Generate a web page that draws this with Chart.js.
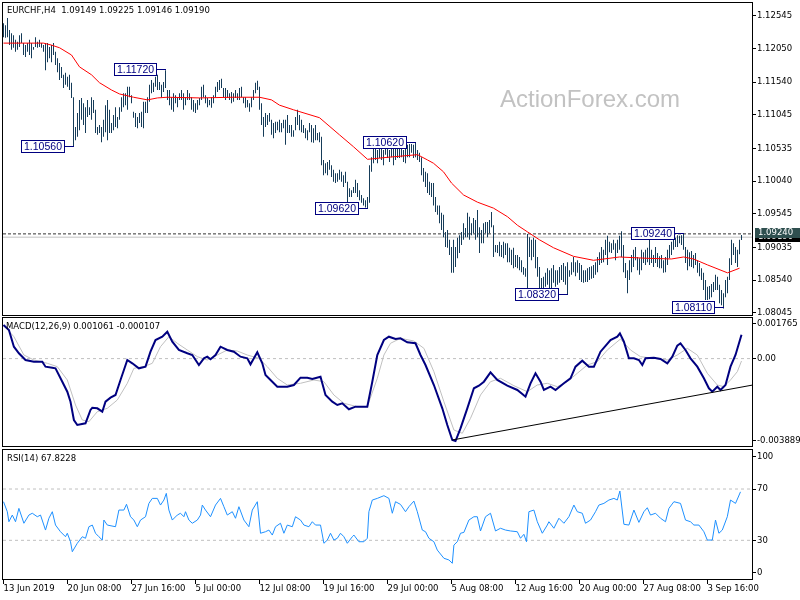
<!DOCTYPE html>
<html>
<head>
<meta charset="utf-8">
<title>EURCHF H4</title>
<script src="https://cdn.jsdelivr.net/npm/chart.js@4.4.1/dist/chart.umd.min.js"></script>
<style>
    html, body { margin: 0; padding: 0; background: #fff; }
    #wrap { position: relative; width: 800px; height: 600px; overflow: hidden; background: #fff; }
    canvas { position: absolute; left: 0; }
</style>
</head>
<body>
<div id="wrap">
    <canvas id="price-chart" width="800" height="338" style="top:-10px"></canvas>
    <canvas id="macd-chart" width="800" height="150" style="top:308px"></canvas>
    <canvas id="rsi-chart" width="800" height="160" style="top:440px"></canvas>
</div>
<script>
/**
 * EURCHF H4 - barras, MA, MACD e RSI
 */

// eixo do tempo (indice da barra)
const xTickIdx = [0, 32, 64, 96, 128, 160, 192, 224, 256, 288, 320, 352];
const xTickLabels = ['13 Jun 2019', '20 Jun 08:00', '27 Jun 16:00', '5 Jul 00:00', '12 Jul 08:00', '19 Jul 16:00',
    '29 Jul 00:00', '5 Aug 08:00', '12 Aug 16:00', '20 Aug 00:00', '27 Aug 08:00', '3 Sep 16:00'];

const priceTicks = [1.12545, 1.12050, 1.11540, 1.11045, 1.10535, 1.10040, 1.09545, 1.09035, 1.08540, 1.08045];
const macdTicks = [0.001765, 0, -0.003889];
const macdTickLabels = ['0.001765', '0.00', '-0.003889'];
const rsiTicks = [100, 70, 30, 0];
const rsiTickLabels = ['100', '70', '30', '0'];
const rsiLevels = [70, 30];

const headerText = 'EURCHF,H4  1.09149 1.09225 1.09146 1.09190';
const macdTitle = 'MACD(12,26,9) 0.001061 -0.000107';
const rsiTitle = 'RSI(14) 67.8228';
const watermark = 'ActionForex.com';

// maximas / minimas das barras H4
const barHigh = [
    1.1243,1.1240,1.1251,1.1233,1.1228,1.1225,1.1218,1.1215,1.1225,1.1228,
    1.1213,1.1210,1.1213,1.1218,1.1213,1.1207,1.1222,1.1215,1.1218,1.1213,
    1.1210,1.1213,1.1213,1.1207,1.1210,1.1213,1.1200,1.1190,1.1183,1.1177,
    1.1165,1.1168,1.1162,1.1165,1.1153,1.1131,1.1086,1.1107,1.1127,1.1130,
    1.1122,1.1116,1.1127,1.1116,1.1131,1.1127,1.1112,1.1086,1.1089,1.1086,
    1.1097,1.1119,1.1127,1.1112,1.1092,1.1104,1.1116,1.1101,1.1116,1.1131,
    1.1137,1.1137,1.1147,1.1147,1.1134,1.1109,1.1107,1.1101,1.1107,1.1109,
    1.1124,1.1124,1.1131,1.1150,1.1157,1.1153,1.1162,1.1165,1.1154,1.1150,
    1.1154,1.1172,1.1142,1.1142,1.1131,1.1137,1.1134,1.1131,1.1137,1.1142,
    1.1137,1.1131,1.1142,1.1137,1.1131,1.1127,1.1122,1.1127,1.1130,1.1147,
    1.1150,1.1134,1.1130,1.1127,1.1131,1.1134,1.1147,1.1154,1.1157,1.1159,
    1.1145,1.1145,1.1142,1.1137,1.1139,1.1137,1.1142,1.1137,1.1145,1.1147,
    1.1131,1.1131,1.1127,1.1122,1.1131,1.1142,1.1153,1.1156,1.1147,1.1122,
    1.1101,1.1107,1.1104,1.1107,1.1097,1.1092,1.1094,1.1094,1.1097,1.1092,
    1.1097,1.1097,1.1104,1.1089,1.1089,1.1081,1.1101,1.1112,1.1104,1.1097,
    1.1089,1.1084,1.1081,1.1092,1.1089,1.1084,1.1089,1.1077,1.1078,1.1071,
    1.1036,1.1031,1.1033,1.1036,1.1028,1.1021,1.1016,1.1016,1.1021,1.1018,
    1.1013,1.1018,1.1003,1.0993,1.0990,1.0995,1.1006,1.1001,1.0990,1.0983,
    1.0978,1.0975,1.0980,1.1028,1.1040,1.1054,1.1054,1.1051,1.1056,1.1056,
    1.1051,1.1060,1.1054,1.1051,1.1060,1.1059,1.1056,1.1053,1.1056,1.1054,
    1.1051,1.1056,1.1059,1.1060,1.1060,1.1059,1.1062,1.1051,1.1047,1.1040,
    1.1024,1.1018,1.1016,1.1003,1.1001,1.1001,1.0980,1.0967,1.0967,1.0956,
    1.0953,1.0927,1.0930,1.0915,1.0904,1.0915,1.0904,1.0918,1.0922,1.0927,
    1.0940,1.0933,1.0956,1.0950,1.0940,1.0948,1.0945,1.0960,1.0934,1.0930,
    1.0940,1.0942,1.0942,1.0945,1.0957,1.0937,1.0907,1.0907,1.0912,1.0907,
    1.0912,1.0910,1.0910,1.0903,1.0900,1.0903,1.0892,1.0892,1.0889,1.0884,
    1.0874,1.0872,1.0924,1.0919,1.0915,1.0918,1.0915,1.0889,1.0874,1.0857,
    1.0859,1.0865,1.0872,1.0869,1.0872,1.0877,1.0869,1.0869,1.0874,1.0877,
    1.0880,1.0875,1.0881,1.0869,1.0881,1.0889,1.0881,1.0884,1.0880,1.0877,
    1.0869,1.0869,1.0872,1.0874,1.0875,1.0877,1.0881,1.0889,1.0896,1.0904,
    1.0900,1.0915,1.0921,1.0912,1.0910,1.0915,1.0910,1.0915,1.0921,1.0928,
    1.0907,1.0880,1.0869,1.0884,1.0892,1.0900,1.0904,1.0889,1.0887,1.0900,
    1.0896,1.0900,1.0903,1.0922,1.0900,1.0892,1.0904,1.0895,1.0890,1.0892,
    1.0884,1.0889,1.0900,1.0907,1.0912,1.0919,1.0918,1.0922,1.0921,1.0922,
    1.0924,1.0904,1.0900,1.0896,1.0898,1.0892,1.0895,1.0884,1.0880,1.0872,
    1.0865,1.0854,1.0844,1.0845,1.0848,1.0851,1.0862,1.0859,1.0847,1.0839,
    1.0834,1.0854,1.0859,1.0887,1.0915,1.0910,1.0904,1.0900,1.0915,1.09225
];
const barLow = [
    1.1222,1.1221,1.1222,1.1210,1.1203,1.1206,1.1200,1.1203,1.1207,1.1213,
    1.1195,1.1192,1.1200,1.1195,1.1190,1.1203,1.1207,1.1206,1.1207,1.1206,
    1.1200,1.1172,1.1184,1.1190,1.1184,1.1195,1.1180,1.1169,1.1157,1.1160,
    1.1145,1.1150,1.1147,1.1142,1.1130,1.1056,1.1066,1.1071,1.1081,1.1097,
    1.1089,1.1077,1.1101,1.1104,1.1097,1.1107,1.1077,1.1074,1.1077,1.1063,
    1.1071,1.1078,1.1066,1.1077,1.1077,1.1081,1.1086,1.1084,1.1097,1.1109,
    1.1116,1.1119,1.1112,1.1131,1.1122,1.1100,1.1086,1.1084,1.1092,1.1086,
    1.1084,1.1107,1.1107,1.1124,1.1137,1.1139,1.1147,1.1142,1.1142,1.1131,
    1.1139,1.1145,1.1127,1.1119,1.1112,1.1109,1.1122,1.1116,1.1127,1.1127,
    1.1112,1.1119,1.1127,1.1127,1.1112,1.1109,1.1107,1.1112,1.1119,1.1127,
    1.1131,1.1122,1.1116,1.1119,1.1115,1.1122,1.1131,1.1139,1.1142,1.1145,
    1.1131,1.1127,1.1130,1.1127,1.1122,1.1124,1.1130,1.1127,1.1127,1.1131,
    1.1122,1.1115,1.1116,1.1109,1.1116,1.1127,1.1137,1.1142,1.1112,1.1089,
    1.1071,1.1086,1.1089,1.1094,1.1074,1.1069,1.1077,1.1081,1.1078,1.1078,
    1.1084,1.1059,1.1077,1.1077,1.1071,1.1071,1.1081,1.1089,1.1081,1.1078,
    1.1077,1.1069,1.1066,1.1078,1.1063,1.1062,1.1066,1.1066,1.1063,1.1028,
    1.1013,1.1016,1.1013,1.1021,1.1010,1.1003,1.1001,1.1003,1.1006,1.1003,
    1.0995,1.1001,1.0972,1.0980,1.0980,1.0986,1.0986,1.0980,1.0975,1.0971,
    1.0967,1.0964,1.0962,1.0971,1.1018,1.1031,1.1036,1.1031,1.1039,1.1036,
    1.1028,1.1044,1.1039,1.1033,1.1040,1.1028,1.1036,1.1039,1.1039,1.1040,
    1.1033,1.1031,1.1040,1.1040,1.1047,1.1039,1.1040,1.1036,1.1033,1.1013,
    1.1003,1.0995,1.0986,1.0983,1.0980,1.0967,1.0957,1.0953,1.0940,1.0930,
    1.0919,1.0904,1.0903,1.0892,1.0865,1.0865,1.0874,1.0887,1.0895,1.0907,
    1.0915,1.0919,1.0919,1.0915,1.0922,1.0925,1.0915,1.0919,1.0895,1.0910,
    1.0910,1.0925,1.0919,1.0925,1.0934,1.0889,1.0896,1.0895,1.0890,1.0889,
    1.0887,1.0892,1.0881,1.0881,1.0877,1.0872,1.0874,1.0872,1.0869,1.0866,
    1.0862,1.0859,1.0842,1.0889,1.0884,1.0889,1.0872,1.0859,1.0839,1.0839,
    1.0839,1.0844,1.0847,1.0839,1.0842,1.0850,1.0844,1.0847,1.0850,1.0854,
    1.0851,1.0847,1.0832,1.0859,1.0862,1.0866,1.0860,1.0865,1.0854,1.0851,
    1.0850,1.0851,1.0851,1.0854,1.0856,1.0857,1.0862,1.0866,1.0877,1.0880,
    1.0881,1.0892,1.0877,1.0896,1.0895,1.0900,1.0884,1.0895,1.0900,1.0889,
    1.0866,1.0857,1.0834,1.0854,1.0866,1.0874,1.0884,1.0869,1.0862,1.0869,
    1.0880,1.0877,1.0881,1.0877,1.0880,1.0874,1.0880,1.0874,1.0872,1.0872,
    1.0865,1.0866,1.0877,1.0887,1.0892,1.0900,1.0904,1.0904,1.0910,1.0907,
    1.0900,1.0880,1.0869,1.0875,1.0874,1.0872,1.0877,1.0865,1.0860,1.0854,
    1.0839,1.0824,1.0824,1.0825,1.0828,1.0836,1.0839,1.0839,1.0819,1.0816,
    1.0811,1.0828,1.0834,1.0854,1.0877,1.0892,1.0880,1.0874,1.0893,1.09146
];

// media movel (vermelha)
const maIdx = [0, 20, 24, 28, 34, 38, 44, 48, 54, 58, 65, 72, 77, 82, 98, 115, 128, 134, 138, 145, 158, 168,
    175, 182, 192, 207, 212, 215, 220, 224, 230, 237, 245, 252, 257, 262, 268, 275, 285, 295, 308, 322, 334,
    340, 345, 352, 362, 368];
const maVal = [1.1213, 1.1213, 1.1210, 1.1206, 1.1195, 1.1177, 1.1165, 1.1153, 1.1142, 1.1136, 1.1131, 1.1127,
    1.1130, 1.1131, 1.1130, 1.1131, 1.1131, 1.1127, 1.1119, 1.1112, 1.1100, 1.1074, 1.1056, 1.1037, 1.1040,
    1.1044, 1.1036, 1.1031, 1.1018, 1.1001, 1.0983, 1.0972, 1.0963, 1.0950, 1.0937, 1.0927, 1.0915, 1.0903,
    1.0890, 1.0884, 1.0889, 1.0887, 1.0886, 1.0889, 1.0886, 1.0877, 1.0865, 1.0872];

// etiquetas de preco desenhadas no grafico
const labelIdx = [35, 81, 182, 206, 282, 340, 360];
const labelPrice = [1.1056, 1.1172, 1.0962, 1.1062, 1.0832, 1.0924, 1.0811];
const levelPrice = 1.0924;
const bidPrice = 1.0919;

// MACD
const macdIdx = [0, 2.7, 5.2, 7.7, 11, 15.2, 19.4, 21, 24.4, 26, 29.4, 31.9, 33.5, 35.2, 36.9, 41, 43.5, 44.4,
    46.9, 49.4, 51, 53.5, 56, 58.5, 61.9, 64.4, 67.7, 71, 73.5, 76, 79.4, 81.9, 84.4, 87.7, 91.9, 94.4, 97.7,
    100.2, 101.9, 103.5, 106, 108.5, 111.9, 115.2, 118.5, 121.9, 123.5, 125.2, 126.9, 129.4, 131, 134.4, 136.9,
    141.9, 145.2, 148.5, 151.9, 154.4, 158.5, 161, 164.4, 166.9, 169.4, 172.7, 176, 181.9, 184.4, 186.9, 190.2,
    192.7, 196, 198.5, 201.9, 206, 208.5, 211, 215.2, 219.4, 221.9, 224.4, 226, 228.5, 231.9, 235.2, 237.7,
    240.2, 243.5, 246.9, 251.9, 256.9, 259.4, 261, 263.5, 266, 268.5, 270.2, 273.5, 276, 280.2, 283.5, 286,
    289.4, 292.7, 295.2, 298.5, 303.5, 306.9, 308.2, 310.2, 312.7, 315.2, 317.7, 319.4, 321, 325.2, 328.5,
    331.9, 334.4, 336.9, 338.5, 341, 343.5, 346.9, 350.2, 352.7, 354.4, 356.9, 358.5, 361, 363.5, 366, 369];
const macdVal = [0.001495, 0.001273, 0.00053, 0.000236, -0.000062, -0.000138, -0.000138, -0.00036, -0.000405,
    -0.000432, -0.001028, -0.001473, -0.001918, -0.002732, -0.002955, -0.002879, -0.002287, -0.002185, -0.002212,
    -0.002363, -0.001918, -0.00174, -0.00162, -0.000952, -0.000062, -0.000209, -0.000432, -0.00036, 0.000307,
    0.000828, 0.000975, 0.001197, 0.000752, 0.000383, 0.000236, 0.00016, -0.000285, 0.000013, 0.000085,
    -0.000031, 0.00016, 0.00053, 0.000383, 0.000307, 0.000085, 0.000013, -0.000254, 0.000013, 0.00028,
    -0.000209, -0.00073, -0.001028, -0.00125, -0.00125, -0.001175, -0.00085, -0.00085, -0.000908, -0.000805,
    -0.00162, -0.001918, -0.002065, -0.001989, -0.002256, -0.00214, -0.00214, -0.001028, 0.00016, 0.000828,
    0.000975, 0.000872, 0.0009, 0.000725, 0.000681, 0.00016, -0.000285, -0.001175, -0.002212, -0.002955,
    -0.003622, -0.003667, -0.003102, -0.002212, -0.001322, -0.001206, -0.001028, -0.00061, -0.000952,
    -0.001206, -0.001397, -0.001575, -0.001695, -0.001099, -0.000654, -0.001028, -0.001397, -0.00125,
    -0.001397, -0.001099, -0.000877, -0.00036, -0.000093, -0.00036, -0.00036, 0.000307, 0.000828, 0.000975,
    0.001126, 0.000752, 0.000013, 0.000013, -0.000062, -0.000285, 0.000013, 0.00004, -0.000018, -0.000209,
    0.000085, 0.000574, 0.000681, 0.000383, 0.000013, -0.00036, -0.000877, -0.001322, -0.001473, -0.00125,
    -0.001397, -0.001175, -0.00036, 0.00016, 0.001061];
const signalIdx = [0, 5.2, 10.2, 15.2, 21.9, 26.9, 31.9, 36, 39.4, 42.7, 46.9, 51.9, 56.9, 61.9, 65.2, 70.2,
    74.4, 78.5, 82.7, 86.9, 91.9, 96.9, 101.9, 106.9, 111.9, 116.9, 121.9, 127.7, 131.9, 136.9, 141.9, 148.5,
    155.2, 160.2, 165.2, 170.2, 176.9, 181.9, 186.9, 190.2, 193.5, 198.5, 205.2, 210.2, 215.2, 220.2, 225.2,
    229.4, 233.5, 238.5, 243.5, 248.5, 255.2, 261.9, 266.9, 271.9, 276.9, 281.9, 286.9, 291.9, 296.9, 301.9,
    308.5, 313.5, 318.5, 325.2, 331.9, 336.9, 341.9, 346.9, 351.9, 356.9, 360.2, 363.5, 366.9, 369];
const signalVal = [0.001495, 0.000975, 0.00016, -0.000062, -0.000209, -0.00036, -0.000952, -0.002065, -0.002732,
    -0.002808, -0.002363, -0.002212, -0.001842, -0.001099, -0.000432, -0.00036, -0.000209, 0.00053, 0.000975,
    0.000681, 0.000383, 0.000085, -0.000062, 0.00016, 0.000383, 0.000338, 0.00016, 0.000013, -0.00036,
    -0.000877, -0.001175, -0.001099, -0.000952, -0.001028, -0.00162, -0.001989, -0.00214, -0.00214, -0.000877,
    0.00016, 0.000681, 0.000903, 0.000783, 0.000458, -0.000583, -0.001918, -0.003177, -0.003324, -0.002657,
    -0.00162, -0.001028, -0.000877, -0.001206, -0.001473, -0.001175, -0.001099, -0.00125, -0.001028,
    -0.000654, -0.000285, -0.000138, 0.000383, 0.000872, 0.000383, 0.000085, 0.000013, -0.000062, 0.00016,
    0.000458, 0.00016, -0.000654, -0.001175, -0.00125, -0.000952, -0.000583, -0.000107];
const trendIdx = [224.4, 375];
const trendVal = [-0.003622, -0.00117];

// RSI(14)
const rsiIdx = [0, 1.9, 2.7, 4.4, 6, 7.7, 10.2, 12.7, 14.4, 16.9, 18.5, 21, 22.7, 24.4, 26, 28.5, 31, 31.9,
    33.5, 34.4, 36.9, 39.4, 41, 42.7, 44.4, 46, 47.7, 49.4, 50.2, 51.9, 56, 57.7, 60.2, 61.5, 63.5, 65.2, 66.9,
    68.5, 71, 72.7, 74.4, 76.9, 78.5, 80.2, 81.4, 82.7, 84.4, 86.9, 88.5, 90.2, 91, 92.7, 94.4, 96.9, 98.5,
    99.4, 101, 103.5, 106, 108.5, 110.2, 111.9, 114.4, 116, 117.7, 120.2, 122.7, 124.4, 126.9, 128.5, 131,
    132.7, 134.4, 136, 138.5, 140.2, 141.9, 144.4, 146, 148.5, 150.2, 152.7, 154.4, 156, 158.5, 160.2, 161.9,
    163.5, 165.2, 166.9, 168.5, 170.2, 171.9, 174.4, 175.2, 177.7, 180.2, 181.9, 182.7, 184.4, 186.9, 190.2,
    192.7, 194.4, 196, 198.5, 201, 202.7, 205.2, 206.9, 209.4, 211, 212.7, 215.2, 216.9, 220.2, 222.7, 224.4,
    225.2, 226.9, 228.5, 230.2, 232.7, 235.2, 236.9, 238.5, 241, 243.5, 246, 248.5, 251, 253.5, 256.9, 258.5,
    260.2, 261.5, 262.7, 265.2, 266.9, 269.4, 271.9, 272.7, 275.2, 277.7, 280.2, 282.7, 285.2, 286.9, 289.4,
    291, 293.5, 296, 297.7, 300.2, 302.7, 305.2, 306.9, 308.2, 310.2, 312.7, 315.2, 317.7, 320.2, 321.9, 323.5,
    326, 328.5, 331, 332.7, 335.2, 338.5, 341, 343.5, 345.2, 347.7, 350.2, 351.9, 354.4, 356, 357.7, 359.4,
    361.9, 363.5, 366, 368.5];
const rsiVal = [60.1, 52.3, 44.5, 49.7, 44.5, 54.9, 43.3, 49.7, 51.1, 48.4, 49.7, 38.0, 47.2, 52.3, 41.9, 36.7,
    32.8, 35.5, 28.9, 21.1, 27.7, 32.8, 31.6, 40.6, 41.9, 35.5, 32.8, 30.2, 45.8, 41.9, 40.6, 53.6, 53.6, 58.1,
    48.4, 45.8, 40.6, 45.8, 48.4, 58.8, 62.7, 62.7, 57.5, 61.4, 66.6, 53.6, 45.8, 49.7, 51.1, 48.4, 52.3, 45.8,
    43.3, 45.8, 49.7, 57.5, 53.6, 48.4, 57.5, 62.7, 56.2, 49.7, 52.3, 47.2, 56.2, 45.8, 40.6, 53.6, 60.1, 35.5,
    36.7, 38.0, 34.1, 40.6, 43.3, 35.5, 41.9, 40.6, 48.4, 45.8, 41.9, 40.6, 44.5, 41.9, 41.9, 27.7, 30.2, 35.5,
    30.2, 31.6, 35.5, 32.8, 27.7, 32.8, 34.1, 28.9, 28.9, 31.6, 52.3, 61.4, 62.7, 64.8, 62.7, 51.1, 60.1, 58.0,
    52.3, 56.2, 60.6, 52.3, 38.0, 36.7, 31.6, 28.9, 22.4, 16.0, 14.7, 12.1, 26.3, 28.9, 35.5, 36.2, 45.8, 48.4,
    48.4, 37.3, 48.4, 51.1, 37.3, 39.4, 38.0, 37.3, 36.7, 31.6, 34.7, 28.9, 52.3, 53.6, 44.5, 35.5, 41.9, 44.5,
    39.4, 47.2, 43.3, 48.4, 57.5, 52.3, 51.1, 43.3, 45.8, 52.3, 57.5, 58.8, 61.4, 62.7, 61.4, 68.4, 42.5, 41.9,
    53.6, 44.0, 52.3, 55.4, 49.7, 51.1, 47.2, 44.5, 54.9, 60.1, 58.8, 45.8, 44.5, 41.9, 41.9, 36.7, 30.2, 30.2,
    45.8, 35.5, 38.0, 48.4, 61.4, 58.8, 67.8];

// limites dos eixos
const X_MIN = -0.25, X_MAX = 374.25;
const PRICE_MIN = 1.07996, PRICE_MAX = 1.12753;
const MACD_MIN = -0.003934, MACD_MAX = 0.001851;
const RSI_MIN = -0.94, RSI_MAX = 101.2;

const BAR_COLOR = '#163c59';
const axisFont = { family: 'DejaVu Sans', size: 8.5 };

/**
 * Moldura, titulo e marca d'agua de cada painel
 */
const panelPlugin = {
    id: 'panel',
    beforeDatasetsDraw(chart, args, opts) {
        if (!opts.watermark) return;
        const { ctx, chartArea } = chart;
        ctx.save();
        ctx.font = '24px "Liberation Sans"';
        ctx.fillStyle = '#c2c2c2';
        ctx.textBaseline = 'alphabetic';
        ctx.fillText(opts.watermark, 500, chartArea.top + 105);
        ctx.restore();
    },
    afterDatasetsDraw(chart, args, opts) {
        const { ctx, chartArea } = chart;
        ctx.save();
        ctx.font = '8.5px "DejaVu Sans"';
        ctx.fillStyle = '#000';
        ctx.textBaseline = 'middle';
        ctx.fillText(opts.title, opts.titleX, chartArea.top + opts.titleDy);
        ctx.restore();
    },
    afterDraw(chart) {
        const { ctx, chartArea: a } = chart;
        ctx.save();
        ctx.strokeStyle = '#000';
        ctx.lineWidth = 1;
        ctx.strokeRect(a.left - 0.5, a.top + 0.5, a.right - a.left + 1, a.bottom - a.top - 1);
        ctx.restore();
    }
};

/**
 * Etiquetas de preco (caixas azuis) e marcadores no eixo
 */
const priceTagPlugin = {
    id: 'priceTags',
    afterDatasetsDraw(chart) {
        const { ctx } = chart;
        const xs = chart.scales.x, ys = chart.scales.y;
        ctx.save();
        ctx.font = '10.5px "Liberation Sans"';
        ctx.textAlign = 'center';
        ctx.textBaseline = 'middle';
        ctx.lineWidth = 1;
        labelIdx.forEach((idx, k) => {
            const text = labelPrice[k].toFixed(5);
            const barX = Math.round(xs.getPixelForValue(idx));
            const midY = Math.round(ys.getPixelForValue(labelPrice[k])) - 1;
            const w = Math.round(ctx.measureText(text).width) + 5;
            const right = barX - 10;
            const left = right - w;
            const top = midY - 6;
            ctx.strokeStyle = '#000080';
            ctx.beginPath();
            ctx.moveTo(right, midY + 0.5);
            ctx.lineTo(barX, midY + 0.5);
            ctx.stroke();
            ctx.fillStyle = '#fff';
            ctx.fillRect(left, top, w, 12);
            ctx.strokeRect(left + 0.5, top + 0.5, w, 12);
            ctx.fillStyle = '#000080';
            ctx.fillText(text, left + w / 2 + 0.5, top + 7);
        });
        ctx.restore();
    },
    afterDraw(chart) {
        const { ctx, chartArea } = chart;
        const ys = chart.scales.y;
        const x0 = chartArea.right + 3;
        const tag = (value, bg, dy) => {
            const y = Math.round(ys.getPixelForValue(value)) + dy;
            ctx.fillStyle = bg;
            ctx.fillRect(x0, y - 5, chart.width - x0, 10);
            ctx.fillStyle = '#fff';
            ctx.fillText(value.toFixed(5), x0 + 3, y);
        };
        ctx.save();
        ctx.font = '8.5px "DejaVu Sans"';
        ctx.textBaseline = 'middle';
        tag(bidPrice, '#000', 0);
        tag(levelPrice, '#2f4f4f', -1);
        ctx.restore();
    }
};

function xScale(show) {
    const cfg = {
        type: 'linear',
        min: X_MIN,
        max: X_MAX,
        offset: false,
        display: show,
        grid: { offset: false, drawOnChartArea: false, tickLength: 4, color: '#000' },
        border: { display: false },
        afterBuildTicks: s => { s.ticks = xTickIdx.map(v => ({ value: v })); },
        ticks: {
            autoSkip: false, maxRotation: 0, minRotation: 0, align: 'start', padding: 0,
            color: '#000', font: axisFont,
            callback: (v, i) => xTickLabels[i]
        }
    };
    if (show) cfg.afterFit = s => { s.height = 20; };
    return cfg;
}

function yScale(min, max, buildTicks, label) {
    return {
        type: 'linear',
        position: 'right',
        min: min,
        max: max,
        grid: { drawOnChartArea: false, tickLength: 4, color: '#000' },
        border: { display: false },
        afterBuildTicks: buildTicks,
        afterFit: s => { s.width = 48; },
        ticks: { autoSkip: false, padding: 1, color: '#000', font: axisFont, callback: label }
    };
}

// desloca para dentro as etiquetas das bordas, como no MT4
function insetTicks(values, min, max, areaPx, insetPx) {
    const per = (max - min) / areaPx;
    return s => {
        s.ticks = values.map((v, k) => {
            if (k === 0) return { value: v - insetPx * per };
            if (k === values.length - 1) return { value: v + insetPx * per };
            return { value: v };
        });
    };
}

function series(idx, val, color, width, order, dash) {
    return {
        type: 'line',
        data: idx.map((x, k) => ({ x: x, y: val[k] })),
        borderColor: color,
        borderWidth: width,
        borderDash: dash || [],
        pointRadius: 0,
        fill: false,
        tension: 0,
        order: order
    };
}

function level(value, color, dash, order) {
    return series([X_MIN, X_MAX], [value, value], color, 1, order, dash);
}

function baseOptions(padding, y, showX, panel) {
    return {
        responsive: false,
        animation: false,
        events: [],
        layout: { padding: padding },
        plugins: { legend: { display: false }, tooltip: { enabled: false }, panel: panel },
        scales: { x: xScale(showX), y: y }
    };
}

// Painel de preco
new Chart(document.getElementById('price-chart'), {
    type: 'line',
    data: {
        datasets: [
            series(maIdx, maVal, '#ff0000', 1, 1),
            {
                type: 'bar',
                data: barHigh.map((h, i) => ({ x: i, y: [barLow[i], h] })),
                backgroundColor: BAR_COLOR,
                borderWidth: 0,
                barThickness: 1,
                inflateAmount: 0,
                order: 2
            },
            level(bidPrice, '#c0c0c0', [], 3),
            level(levelPrice, '#333333', [3, 2], 4)
        ]
    },
    options: baseOptions(
        { left: 3, right: 0, top: 12, bottom: 12 },
        yScale(PRICE_MIN, PRICE_MAX, s => { s.ticks = priceTicks.map(v => ({ value: v })); }, v => v.toFixed(5)),
        false,
        { title: headerText, titleX: 7, titleDy: 8.5, watermark: watermark }
    ),
    plugins: [panelPlugin, priceTagPlugin]
});

// Painel MACD
new Chart(document.getElementById('macd-chart'), {
    type: 'line',
    data: {
        datasets: [
            series(trendIdx, trendVal, '#000000', 1, 1),
            series(macdIdx, macdVal, '#000080', 2, 2),
            series(signalIdx, signalVal, '#c0c0c0', 1, 3),
            level(0, '#c0c0c0', [3, 3], 4)
        ]
    },
    options: baseOptions(
        { left: 3, right: 0, top: 9, bottom: 11 },
        yScale(MACD_MIN, MACD_MAX, insetTicks(macdTicks, MACD_MIN, MACD_MAX, 130, 5), (v, i) => macdTickLabels[i]),
        false,
        { title: macdTitle, titleX: 6, titleDy: 10 }
    ),
    plugins: [panelPlugin]
});

// Painel RSI
new Chart(document.getElementById('rsi-chart'), {
    type: 'line',
    data: {
        datasets: [
            series(rsiIdx, rsiVal, '#1e90ff', 1, 1),
            level(rsiLevels[0], '#c0c0c0', [3, 3], 2),
            level(rsiLevels[1], '#c0c0c0', [3, 3], 3)
        ]
    },
    options: baseOptions(
        { left: 3, right: 0, top: 9, bottom: 0 },
        yScale(RSI_MIN, RSI_MAX, insetTicks(rsiTicks, RSI_MIN, RSI_MAX, 131, 6), (v, i) => rsiTickLabels[i]),
        true,
        { title: rsiTitle, titleX: 7, titleDy: 10 }
    ),
    plugins: [panelPlugin]
});
</script>
</body>
</html>
